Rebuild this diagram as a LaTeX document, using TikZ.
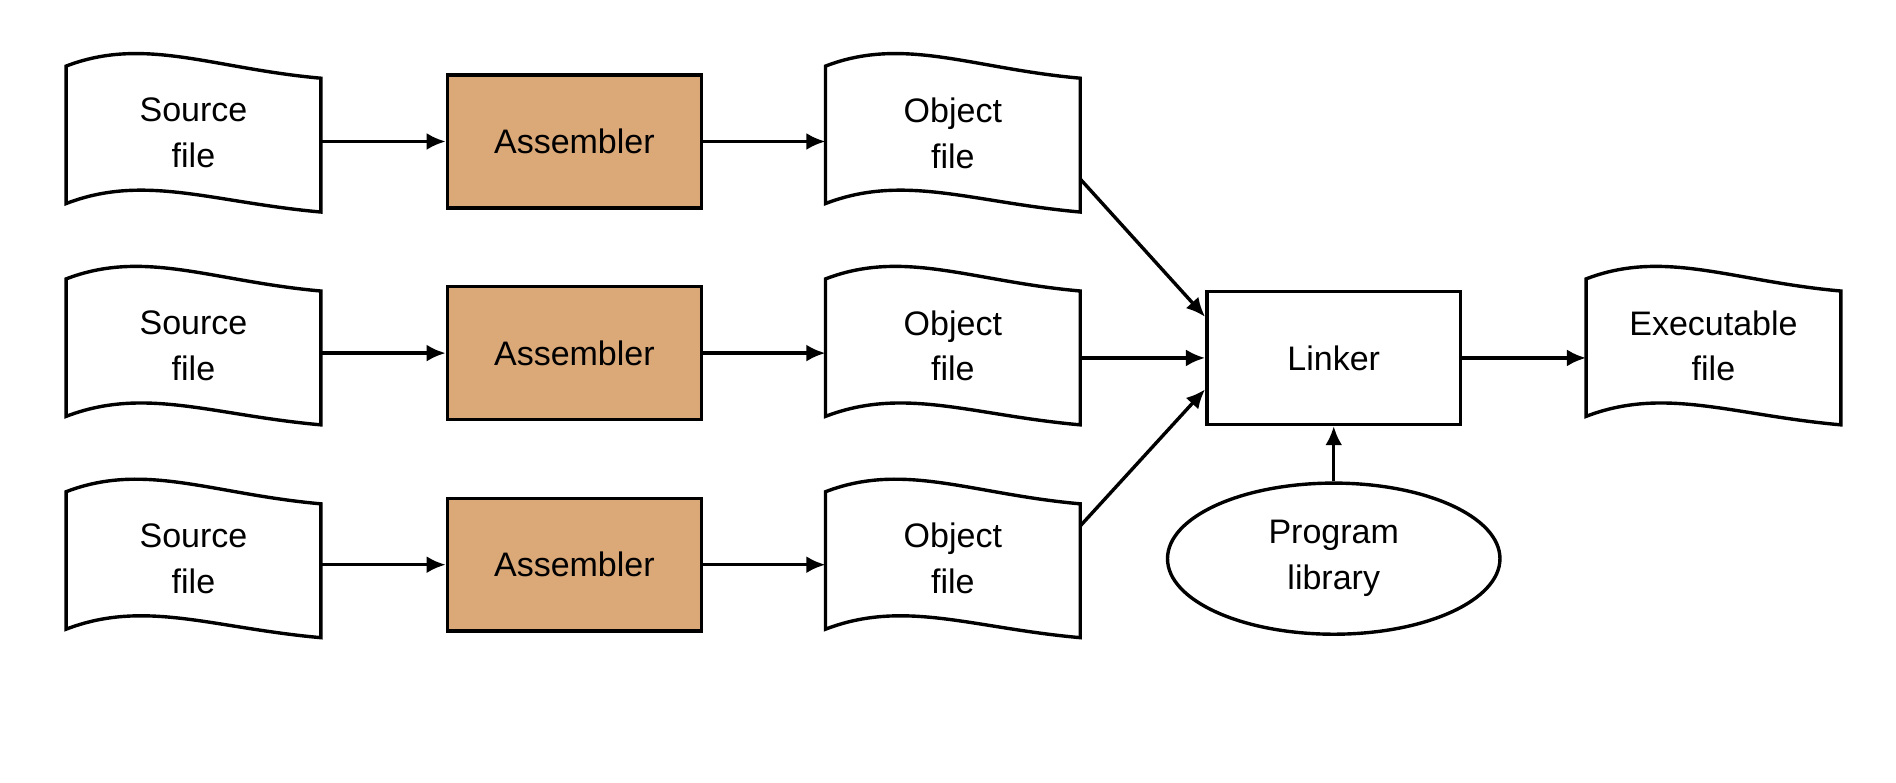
\documentclass[tikz,border=0pt]{standalone}
\usepackage{fontspec}
\setmainfont{Liberation Sans}
\usetikzlibrary{calc,shapes.geometric,arrows.meta}
\newcommand\docwave[1]{%
  \draw[line width=1.6pt,fill=white]
   ($(#1.north west)+(0,10)$) .. controls +(65,-25) and +(-90,-8) .. ($(#1.north east)+(0,20)$)
   -- (#1.south east) .. controls +(-90,-8) and +(65,-25) .. ($(#1.south west)+(0,-7)$) -- cycle;}
\begin{document}
\begin{tikzpicture}[x=0.02cm,y=-0.02cm,
  txt/.style={align=center,font=\fontsize{16}{21.6}\selectfont},
  doc/.style={txt,minimum width=4.2cm,minimum height=2.6cm,inner sep=0},
  asm/.style={txt,draw,line width=1.6pt,fill=asmcol,minimum width=4.2cm,minimum height=2.2cm},
  arr/.style={line width=1.6pt,-{Latex[length=9pt,width=8pt]}}]
\definecolor{asmcol}{HTML}{DBA878}
\useasboundingbox (0,0) rectangle (1568,647);
\foreach \i/\y in {1/110,2/286,3/462}{
  \node[doc] (s\i) at (160,\y) {};
  \docwave{s\i}
  \node[txt] at (s\i) {Source\\file};
  \node[doc] (o\i) at (788,\y) {};
  \docwave{o\i}
  \node[txt] at (o\i) {Object\\file};
}
\node[asm] (a1) at (475,117) {Assembler};
\node[asm] (a2) at (475,292) {Assembler};
\node[asm] (a3) at (475,467) {Assembler};
\node[asm,fill=white] (l) at (1103,296) {Linker};
\node[doc] (e) at (1417,286) {};
\docwave{e}
\node[txt] at (e) {Executable\\file};
\node[txt,draw,line width=1.6pt,ellipse,minimum width=5.5cm,minimum height=2.5cm,inner sep=0] (p) at (1103,462) {Program\\library};
\foreach \i in {1,2,3}{
  \draw[arr] (s\i.east |- a\i.west) -- (a\i.west);
  \draw[arr] (a\i.east) -- (o\i.west |- a\i.east);
}
\draw[arr] ($(o1.east)+(0,38)$) -- ($(l.west)+(0,-34)$);
\draw[arr] (o2.east |- l.west) -- (l.west);
\draw[arr] ($(o3.east)+(0,-27)$) -- ($(l.west)+(0,26)$);
\draw[arr] (l.east) -- (e.west |- l.east);
\draw[arr] (p.north) -- (l.south);
\end{tikzpicture}
\end{document}
